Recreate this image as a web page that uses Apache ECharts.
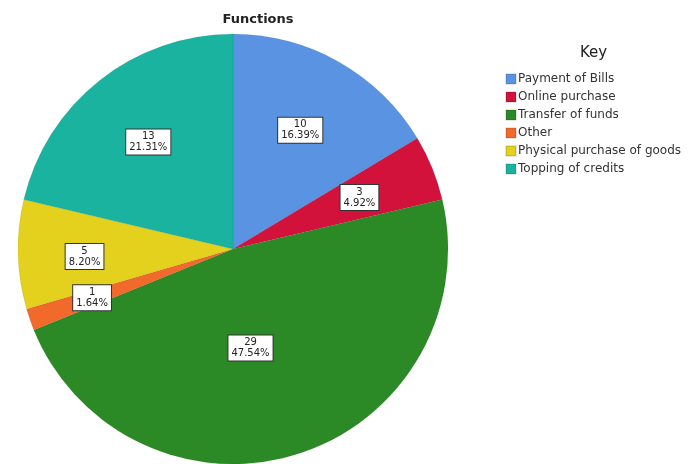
<!DOCTYPE html>
<html>
<head>
<meta charset="utf-8">
<script src="https://cdn.jsdelivr.net/npm/echarts@6/dist/echarts.min.js"></script>
<style>
  html, body { margin: 0; padding: 0; background: #fff; }
  #chart { width: 691px; height: 464px; }
</style>
</head>
<body>
<div id="chart"></div>
<script>
// data
const categories = ['Payment of Bills', 'Online purchase', 'Transfer of funds', 'Other', 'Physical purchase of goods', 'Topping of credits'];
const counts = [10, 3, 29, 1, 5, 13];
const percents = ['16.39%', '4.92%', '47.54%', '1.64%', '8.20%', '21.31%'];

const COLORS = ['#5a93e2', '#d3123c', '#2b8a25', '#f2692c', '#e3d11e', '#19b3a0'];
const FONT = '"DejaVu Sans", Verdana, sans-serif';

const CENTER = [233, 249];
const RADIUS = 215;

const chart = echarts.init(document.getElementById('chart'));

chart.setOption({
  animation: false,
  title: {
    text: 'Functions',
    left: 253,
    top: 8,
    textAlign: 'center',
    textStyle: { fontFamily: FONT, fontSize: 13, fontWeight: 'bold', color: '#222' }
  },
  legend: {
    orient: 'vertical',
    left: 500,
    top: 68,
    itemWidth: 10,
    itemHeight: 10,
    itemGap: 6,
    icon: 'rect',
    textStyle: { fontFamily: FONT, fontSize: 12, color: '#333', padding: [0, 0, 0, -3] },
    data: categories
  },
  graphic: [{
    type: 'text',
    left: 580,
    top: 46,
    style: { text: 'Key', font: '15px "DejaVu Sans", Verdana, sans-serif', fill: '#222' }
  }],
  series: [
    {
      // the slices
      type: 'pie',
      center: CENTER,
      radius: RADIUS,
      startAngle: 90,
      clockwise: true,
      itemStyle: { borderColor: 'rgba(0,0,0,0.1)', borderWidth: 0.5 },
      label: { show: false },
      labelLine: { show: false },
      emphasis: { disabled: true },
      data: categories.map((name, i) => ({
        name,
        value: counts[i],
        itemStyle: { color: COLORS[i] }
      }))
    },
    {
      // invisible ring, only used to push the boxed labels further out
      type: 'pie',
      center: CENTER,
      radius: [52, RADIUS],
      startAngle: 90,
      clockwise: true,
      silent: true,
      legendHoverLink: false,
      itemStyle: { color: 'rgba(0,0,0,0)' },
      label: {
        show: true,
        position: 'inside',
        formatter: (p) => p.value + '\n' + percents[p.dataIndex],
        backgroundColor: '#fff',
        borderColor: '#333',
        borderWidth: 1,
        padding: [2, 3, 1, 3],
        fontFamily: FONT,
        fontSize: 10,
        lineHeight: 11,
        color: '#222',
        align: 'center'
      },
      labelLine: { show: false },
      emphasis: { disabled: true },
      data: categories.map((name, i) => ({
        name: name + ' ',
        value: counts[i],
        label: i === 2 ? { offset: [-24, -31] } : (i >= 3 && i <= 4 ? { offset: [-12, 4] } : undefined)
      }))
    }
  ]
});
</script>
</body>
</html>
